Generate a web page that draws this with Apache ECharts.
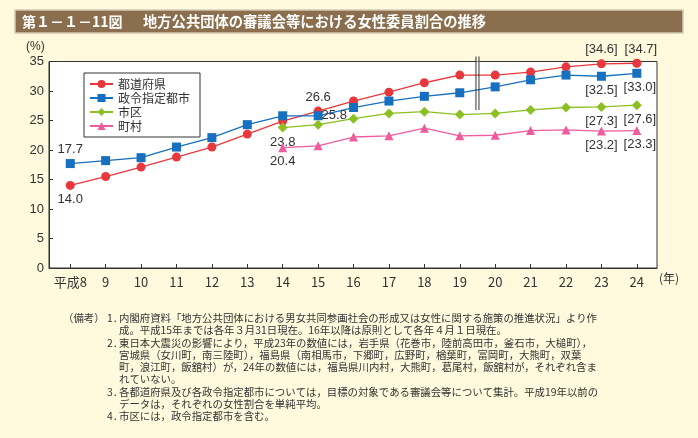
<!DOCTYPE html>
<html>
<head>
<meta charset="utf-8">
<script src="https://cdn.jsdelivr.net/npm/echarts@6/dist/echarts.min.js"></script>
<style>
html,body{margin:0;padding:0;background:#FFFADD;}
#c{width:698px;height:438px;}
</style>
</head>
<body>
<div id="c"></div>
<script>
// ---- data ----
var years = [8, 9, 10, 11, 12, 13, 14, 15, 16, 17, 18, 19, 20, 21, 22, 23, 24];
var prefectures = [14.0, 15.5, 17.1, 18.8, 20.5, 22.7, 24.9, 26.6, 28.3, 29.8, 31.4, 32.7, 32.7, 33.2, 34.1, 34.6, 34.7];
var designatedCities = [17.7, 18.2, 18.7, 20.5, 22.1, 24.3, 25.8, 25.8, 27.2, 28.3, 29.1, 29.7, 30.7, 31.9, 32.7, 32.5, 33.0];
var citiesWards = [null, null, null, null, null, null, 23.8, 24.3, 25.3, 26.2, 26.5, 26.0, 26.2, 26.8, 27.2, 27.3, 27.6];
var townsVillages = [null, null, null, null, null, null, 20.4, 20.7, 22.2, 22.4, 23.7, 22.4, 22.5, 23.3, 23.4, 23.2, 23.3];
var seriesNames = ['都道府県', '政令指定都市', '市区', '町村'];
var yTicks = [0, 5, 10, 15, 20, 25, 30, 35];
var titleNo = '第１－１－11図';
var titleText = '地方公共団体の審議会等における女性委員割合の推移';
var notes = [
  ['（備考）', '1．', '内閣府資料「地方公共団体における男女共同参画社会の形成又は女性に関する施策の推進状況」より作'],
  ['', '', '成。平成15年までは各年３月31日現在。16年以降は原則として各年４月１日現在。'],
  ['', '2．', '東日本大震災の影響により，平成23年の数値には，岩手県（花巻市，陸前高田市，釜石市，大槌町），'],
  ['', '', '宮城県（女川町，南三陸町），福島県（南相馬市，下郷町，広野町，楢葉町，富岡町，大熊町，双葉'],
  ['', '', '町，浪江町，飯舘村）が，24年の数値には，福島県川内村，大熊町，葛尾村，飯舘村が，それぞれ含ま'],
  ['', '', 'れていない。'],
  ['', '3．', '各都道府県及び各政令指定都市については，目標の対象である審議会等について集計。平成19年以前の'],
  ['', '', 'データは，それぞれの女性割合を単純平均。'],
  ['', '4．', '市区には，政令指定都市を含む。']
];

// ---- label placement (style only) ----
var labelSpec = [
  {8: {pos: 'bottom'}, 15: {pos: 'top'}, 23: {pos: 'top', br: true}, 24: {pos: 'top', br: true, off: [4, 0]}},
  {8: {pos: 'top'}, 15: {pos: 'right', dist: -1}, 23: {pos: 'bottom', br: true}, 24: {pos: 'bottom', br: true, off: [3, 0]}},
  {14: {pos: 'bottom'}, 23: {pos: 'bottom', br: true}, 24: {pos: 'bottom', br: true, off: [3, 0]}},
  {14: {pos: 'bottom'}, 23: {pos: 'bottom', br: true}, 24: {pos: 'bottom', br: true, off: [3, 0]}}
];
var colors = ['#E8383D', '#1670BF', '#8CC022', '#EE5C9E'];
var symbols = ['circle', 'rect', 'diamond', 'triangle'];
var symbolSizes = [9, 9, 10, 9];
var allValues = [prefectures, designatedCities, citiesWards, townsVillages];

function buildData(vals, spec) {
  var out = [];
  for (var i = 0; i < years.length; i++) {
    if (vals[i] == null) continue;
    var item = {value: [years[i], vals[i]]};
    var s = spec[years[i]];
    if (s) {
      var txt = vals[i].toFixed(1);
      if (s.br) txt = '[' + txt + ']';
      item.label = {
        show: true, position: s.pos, formatter: txt,
        distance: s.dist != null ? s.dist : 3,
        offset: s.off || [0, 0]
      };
    }
    out.push(item);
  }
  return out;
}

var series = allValues.map(function (vals, k) {
  return {
    name: seriesNames[k],
    type: 'line',
    data: buildData(vals, labelSpec[k]),
    symbol: symbols[k],
    symbolSize: symbolSizes[k],
    showAllSymbol: true,
    lineStyle: {color: colors[k], width: 1.3},
    itemStyle: {color: colors[k]},
    label: {color: '#333', fontSize: 13, fontFamily: 'Liberation Sans, Arial, sans-serif'},
    z: 3 + k,
    animation: false
  };
});

var chart = echarts.init(document.getElementById('c'), null, {renderer: 'canvas'});

var graphics = [
  {type: 'rect', shape: {x: 15, y: 10, width: 668, height: 23}, style: {fill: '#8A6E4D', stroke: '#D3CAB3', lineWidth: 1.5}},
  {type: 'text', x: 22, y: 21.5, style: {text: titleNo, fill: '#fff', font: 'bold 14px "Noto Sans CJK JP"', textVerticalAlign: 'middle'}},
  {type: 'text', x: 143, y: 21.5, style: {text: titleText, fill: '#fff', font: 'bold 14.3px "Noto Sans CJK JP"', textVerticalAlign: 'middle'}},
  {type: 'text', x: 26, y: 41, style: {text: '(%)', fill: '#333', font: '12px "Liberation Sans", Arial, sans-serif'}},
  {type: 'text', x: 659, y: 272, style: {text: '(年)', fill: '#333', font: '12px "Noto Sans CJK JP"'}}
];
var lineY = 318;
notes.forEach(function (n, i) {
  var y = lineY + i * 12.3;
  var f = '10.4px "Noto Sans CJK JP"';
  if (n[0]) graphics.push({type: 'text', x: 63, y: y, style: {text: n[0], fill: '#333', font: f, textVerticalAlign: 'middle'}});
  if (n[1]) graphics.push({type: 'text', x: 107, y: y, style: {text: n[1], fill: '#333', font: f, textVerticalAlign: 'middle'}});
  graphics.push({type: 'text', x: 119, y: y, style: {text: n[2], fill: '#333', font: f, textVerticalAlign: 'middle'}});
});

chart.setOption({
  animation: false,
  backgroundColor: '#FFFADD',
  textStyle: {fontFamily: '"Liberation Sans", Arial, sans-serif'},
  grid: {left: 49, right: 41, top: 61.5, bottom: 170, show: true, backgroundColor: '#fff', borderColor: '#333', borderWidth: 1},
  legend: {
    left: 84, top: 73, orient: 'vertical',
    data: seriesNames,
    borderColor: '#333', borderWidth: 1,
    padding: [5, 10, 5, 5],
    itemWidth: 23, itemHeight: 10, itemGap: 2,
    textStyle: {fontSize: 12, color: '#333', fontFamily: '"Noto Sans CJK JP"', lineHeight: 12},
    backgroundColor: '#fff'
  },
  xAxis: {
    type: 'value', min: 7.4, max: 24.57,
    axisLine: {lineStyle: {color: '#333'}},
    splitLine: {show: false},
    axisTick: {inside: true, length: 4, customValues: years, lineStyle: {color: '#333'}},
    axisLabel: {
      customValues: years, color: '#333', fontSize: 13, margin: 8,
      fontFamily: '"Noto Sans CJK JP"',
      formatter: function (v) { return v === 8 ? '平成8' : String(v); }
    }
  },
  yAxis: {
    type: 'value', min: 0, max: 35, interval: 5,
    axisLine: {show: true, lineStyle: {color: '#333'}},
    splitLine: {show: false},
    axisTick: {show: true, inside: true, length: 4, lineStyle: {color: '#333'}},
    axisLabel: {color: '#333', fontSize: 13, margin: 5,
      customValues: yTicks}
  },
  series: series,
  graphic: graphics
});

// axis break mark between 19 and 20
var bx = chart.convertToPixel({xAxisIndex: 0}, 19.5);
chart.setOption({
  graphic: graphics.concat([
    {type: 'rect', shape: {x: bx - 1, y: 57, width: 3, height: 4.5}, style: {fill: '#FFFADD'}, z: 10},
    {type: 'line', shape: {x1: bx - 1.5, y1: 56.5, x2: bx - 1.5, y2: 110}, style: {stroke: '#333', lineWidth: 1}, z: 10},
    {type: 'line', shape: {x1: bx + 1.5, y1: 56.5, x2: bx + 1.5, y2: 110}, style: {stroke: '#333', lineWidth: 1}, z: 10}
  ])
});
</script>
</body>
</html>
